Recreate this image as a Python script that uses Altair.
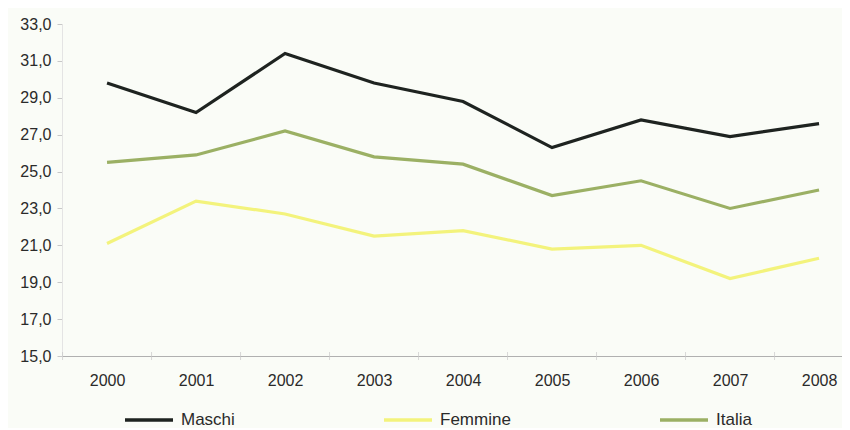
import altair as alt
import pandas as pd

years = [2000, 2001, 2002, 2003, 2004, 2005, 2006, 2007, 2008]
maschi = [29.8, 28.2, 31.4, 29.8, 28.8, 26.3, 27.8, 26.9, 27.6]
femmine = [21.1, 23.4, 22.7, 21.5, 21.8, 20.8, 21.0, 19.2, 20.3]
italia = [25.5, 25.9, 27.2, 25.8, 25.4, 23.7, 24.5, 23.0, 24.0]
series = ["Maschi", "Femmine", "Italia"]
colors = ["#1e2320", "#f3f37c", "#9bb064"]
y_ticks = [15, 17, 19, 21, 23, 25, 27, 29, 31, 33]

rows = []
for name, vals in zip(series, [maschi, femmine, italia]):
    for yr, v in zip(years, vals):
        rows.append({"Anno": yr, "Valore": v, "Serie": name})
df = pd.DataFrame(rows)

bounds = pd.DataFrame({"b": [y - 0.5 for y in years]})

FONT = "Liberation Sans"
TXT = "#2a2a2a"

xscale = alt.Scale(domain=[1999.494, 2008.258], nice=False, zero=False)
yscale = alt.Scale(domain=[15, 33], nice=False, zero=False)

xaxis = alt.Axis(values=years, format="d", title=None, grid=False,
                 ticks=False, labelPadding=16, labelFontSize=16,
                 labelFont=FONT, labelColor=TXT,
                 labelOverlap=False, labelFlush=False,
                 domainColor="#b0b0b0", domainWidth=1.2)
yaxis = alt.Axis(values=y_ticks, title=None, grid=False,
                 labelExpr="replace(format(datum.value, '.1f'), '.', ',')",
                 tickSize=5, tickColor="#c8c8c8", labelPadding=6,
                 labelOverlap=False, labelFlush=False,
                 labelFontSize=16, labelFont=FONT, labelColor=TXT,
                 domainColor="#e4e4e4")

lines = alt.Chart(df).mark_line(strokeWidth=3.2).encode(
    x=alt.X("Anno:Q", scale=xscale, axis=xaxis),
    y=alt.Y("Valore:Q", scale=yscale, axis=yaxis),
    color=alt.Color("Serie:N", sort=series,
                    scale=alt.Scale(domain=series, range=colors),
                    legend=alt.Legend(title=None, orient="none", legendX=61,
                                      legendY=370, direction="horizontal",
                                      columns=3, columnPadding=142,
                                      symbolType="stroke", symbolSize=2304,
                                      symbolStrokeWidth=3.5,
                                      labelFontSize=17, labelFont=FONT,
                                      labelColor=TXT, labelOffset=6)),
)

ticks = alt.Chart(bounds).mark_tick(orient="vertical", size=8, thickness=1,
                                    color="#c8c8c8").encode(
    x=alt.X("b:Q", scale=xscale, axis=xaxis),
    y=alt.Y("datum_y:Q", scale=yscale, axis=yaxis),
).transform_calculate(datum_y="15")

chart = alt.layer(lines, ticks).properties(
    width=780, height=332,
    autosize=alt.AutoSizeParams(type="none"),
    padding={"left": 54, "top": 16, "right": 0, "bottom": 72},
    background="#fafcf7",
).configure_view(stroke=None)

chart.save("out.html", embed_options={"renderer": "svg", "actions": False})
